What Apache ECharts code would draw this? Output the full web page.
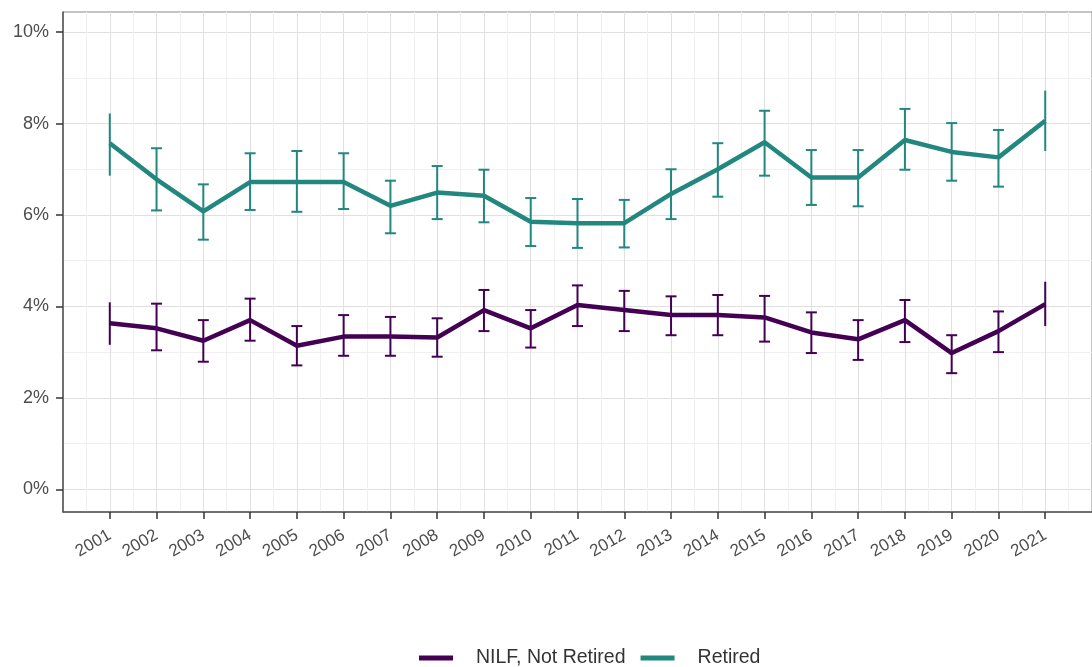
<!DOCTYPE html>
<html>
<head>
<meta charset="utf-8">
<script src="https://cdn.jsdelivr.net/npm/echarts@6/dist/echarts.min.js"></script>
<style>
  html, body { margin: 0; padding: 0; background: #fff; }
  #chart { width: 1092px; height: 667px; }
</style>
</head>
<body>
<div id="chart"></div>
<script>
// values (percent)
var years = [2001,2002,2003,2004,2005,2006,2007,2008,2009,2010,2011,2012,2013,2014,2015,2016,2017,2018,2019,2020,2021]
var nilf     = [3.63,3.52,3.25,3.70,3.14,3.34,3.34,3.32,3.92,3.52,4.03,3.92,3.81,3.81,3.76,3.43,3.28,3.70,2.98,3.46,4.05]
var nilfLow  = [3.16,3.04,2.79,3.25,2.71,2.92,2.92,2.90,3.46,3.10,3.57,3.46,3.37,3.37,3.23,2.98,2.83,3.22,2.54,3.00,3.57]
var nilfHigh = [4.09,4.06,3.70,4.17,3.57,3.81,3.77,3.74,4.36,3.92,4.46,4.34,4.22,4.25,4.23,3.87,3.70,4.14,3.37,3.89,4.54]
var retired     = [7.57,6.78,6.08,6.72,6.72,6.72,6.20,6.49,6.42,5.85,5.82,5.82,6.46,7.00,7.59,6.82,6.82,7.64,7.38,7.26,8.06]
var retiredLow  = [6.86,6.10,5.46,6.11,6.07,6.13,5.60,5.91,5.84,5.32,5.28,5.29,5.91,6.40,6.86,6.22,6.19,6.99,6.75,6.62,7.40]
var retiredHigh = [8.22,7.46,6.67,7.35,7.40,7.35,6.75,7.07,6.99,6.37,6.35,6.33,7.00,7.57,8.28,7.42,7.42,8.32,8.01,7.86,8.72]
var yTicks = [0,2,4,6,8,10]
var yMinor = [1,3,5,7,9]

var purple = '#440154'
var teal = '#21877f'
var labelColor = '#4d4d4d'

function pairs(a){ return years.map(function(y,i){ return [y, a[i]] }) }
function bars(lo,hi){ return years.map(function(y,i){ return [y, lo[i], hi[i]] }) }

function errorBar(color){
  return function(params, api){
    var x = api.value(0)
    var top = api.coord([x, api.value(2)])
    var bot = api.coord([x, api.value(1)])
    var w = 5.5
    var style = { stroke: color, lineWidth: 2 }
    var kids = [{ type:'line', shape:{x1:top[0],y1:top[1],x2:bot[0],y2:bot[1]}, style: style }]
    // first and last bars have no caps in the original
    if (params.dataIndex !== 0 && params.dataIndex !== years.length - 1){
      kids.push({ type:'line', shape:{x1:top[0]-w,y1:top[1],x2:top[0]+w,y2:top[1]}, style: style })
      kids.push({ type:'line', shape:{x1:bot[0]-w,y1:bot[1],x2:bot[0]+w,y2:bot[1]}, style: style })
    }
    return { type:'group', children: kids }
  }
}

var yRange = { min: -0.497, max: 10.44 }

var myChart = echarts.init(document.getElementById('chart'))
var option = {
  animation: false,
  textStyle: { fontFamily: 'Liberation Sans, Arial, sans-serif' },
  grid: {
    left: 63, right: -9, top: 12, bottom: 155,
    show: true, borderColor: '#8a8a8a', borderWidth: 1, backgroundColor: '#fff'
  },
  legend: {
    top: 648, left: 419, padding: 0,
    data: ['NILF, Not Retired', 'Retired'],
    icon: 'rect', itemWidth: 34, itemHeight: 5, itemGap: 15,
    textStyle: { color: '#333', fontSize: 19.5, padding: [0,0,0,18] }
  },
  xAxis: {
    type: 'value', min: 2000, max: 2022, interval: 1,
    axisLine: { show: true, onZero: false, lineStyle: { color: '#555', width: 1.5 } },
    axisTick: { show: true, length: 7, customValues: years, lineStyle: { color: '#333', width: 1.5 } },
    axisLabel: { customValues: years, rotate: 30, margin: 22, color: labelColor, fontSize: 17,
      formatter: function(v){ return String(v) } },
    splitLine: { show: true, lineStyle: { color: '#e0e0e0', width: 1 } },
    minorTick: { show: false, splitNumber: 2 },
    minorSplitLine: { show: true, lineStyle: { color: '#f0f0f0', width: 1 } }
  },
  yAxis: [{
    type: 'value', min: yRange.min, max: yRange.max,
    axisLine: { show: true, lineStyle: { color: '#555', width: 1.5 } },
    axisTick: { show: true, length: 7, customValues: yTicks, lineStyle: { color: '#333', width: 1.5 } },
    axisLabel: { customValues: yTicks, margin: 14, color: labelColor, fontSize: 18,
      formatter: function(v){ return v + '%' } },
    splitLine: { show: true, lineStyle: { color: '#e0e0e0', width: 1 } }
  }, {
    type: 'value', min: yRange.min, max: yRange.max, position: 'left',
    axisLine: { show: false },
    axisTick: { show: false, customValues: yMinor },
    axisLabel: { show: false, customValues: yMinor },
    splitLine: { show: true, lineStyle: { color: '#f0f0f0', width: 1 } }
  }],
  series: [
    { name: 'NILF, Not Retired', type: 'line', data: pairs(nilf), showSymbol: false, z: 3,
      lineStyle: { color: purple, width: 4.5 }, itemStyle: { color: purple } },
    { name: 'Retired', type: 'line', data: pairs(retired), showSymbol: false, z: 3,
      lineStyle: { color: teal, width: 4.5 }, itemStyle: { color: teal } },
    { name: 'nilf_err', type: 'custom', renderItem: errorBar(purple), data: bars(nilfLow, nilfHigh),
      encode: { x: 0, y: [1,2] }, z: 4 },
    { name: 'retired_err', type: 'custom', renderItem: errorBar(teal), data: bars(retiredLow, retiredHigh),
      encode: { x: 0, y: [1,2] }, z: 4 }
  ]
}
myChart.setOption(option)
</script>
</body>
</html>
